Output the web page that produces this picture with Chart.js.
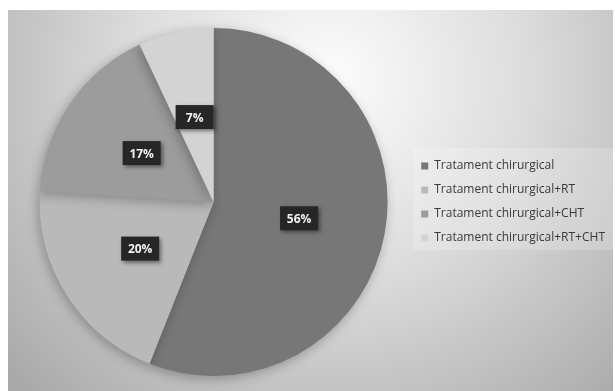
<!DOCTYPE html>
<html lang="ro">
<head>
    <meta charset="UTF-8">
    <title>Tratament</title>
    <script src="https://cdn.jsdelivr.net/npm/chart.js@4.4.1/dist/chart.umd.min.js"></script>
    <style>
        body {
            margin: 0;
            background: #ffffff;
        }
        .chart-wrap {
            width: 615px;
            height: 391px;
        }
    </style>
</head>
<body>
    <div class="chart-wrap">
        <canvas id="pieChart" width="615" height="391"></canvas>
    </div>

    <script>
        // data
        const categories = ['Tratament chirurgical', 'Tratament chirurgical+RT', 'Tratament chirurgical+CHT', 'Tratament chirurgical+RT+CHT'];
        const percentages = [56, 20, 17, 7];
        const sliceColors = ['#777777', '#b9b9b9', '#9c9c9c', '#d3d3d3'];

        // gray gradient panel behind everything
        const panelPlugin = {
            id: 'panel',
            beforeDraw(chart) {
                const ctx = chart.ctx;
                ctx.save();
                ctx.fillStyle = '#ffffff';
                ctx.fillRect(0, 0, chart.width, chart.height);
                const g = ctx.createRadialGradient(330, 80, 10, 330, 80, 430);
                g.addColorStop(0, '#fbfbfb');
                g.addColorStop(0.45, '#dcdcdc');
                g.addColorStop(1, '#aaaaaa');
                ctx.fillStyle = g;
                ctx.fillRect(8, 10, chart.width - 10, chart.height - 10);

                // faint band behind legend
                ctx.fillStyle = 'rgba(255,255,255,0.2)';
                ctx.fillRect(413, 148, chart.width - 415, 102);
                ctx.restore();
            },
            beforeDatasetsDraw(chart) {
                const ctx = chart.ctx;
                ctx.save();
                ctx.shadowColor = 'rgba(0,0,0,0.28)';
                ctx.shadowBlur = 12;
                ctx.shadowOffsetX = -2;
                ctx.shadowOffsetY = 3;
            },
            afterDatasetsDraw(chart) {
                chart.ctx.restore();
            }
        };

        // black value boxes in the middle of each slice
        const valueLabels = {
            id: 'valueLabels',
            afterDatasetsDraw(chart) {
                const ctx = chart.ctx;
                const meta = chart.getDatasetMeta(0);
                const total = percentages.reduce((a, b) => a + b, 0);
                ctx.save();
                ctx.font = 'bold 12px "Open Sans", sans-serif';
                ctx.textAlign = 'center';
                ctx.textBaseline = 'middle';
                meta.data.forEach((arc, i) => {
                    const p = arc.tooltipPosition();
                    const text = Math.round(percentages[i] / total * 100) + '%';
                    const w = 38, h = 24;
                    ctx.shadowColor = 'rgba(0,0,0,0.45)';
                    ctx.shadowBlur = 4;
                    ctx.shadowOffsetX = 2;
                    ctx.shadowOffsetY = 2;
                    ctx.fillStyle = '#262626';
                    ctx.fillRect(p.x - w / 2, p.y - h / 2, w, h);
                    ctx.shadowColor = 'transparent';
                    ctx.fillStyle = '#f2f2f2';
                    ctx.fillText(text, p.x, p.y + 1);
                });
                ctx.restore();
            }
        };

        new Chart(document.getElementById('pieChart'), {
            type: 'pie',
            data: {
                labels: categories,
                datasets: [{
                    data: percentages,
                    backgroundColor: sliceColors,
                    borderWidth: 0
                }]
            },
            options: {
                responsive: false,
                animation: false,
                layout: {
                    padding: { left: 18, right: 0, top: 28, bottom: 15 }
                },
                plugins: {
                    tooltip: { enabled: false },
                    legend: {
                        position: 'right',
                        labels: {
                            boxWidth: 7,
                            boxHeight: 7,
                            padding: 12,
                            color: '#3a3a3a',
                            font: { family: '"Open Sans", sans-serif', size: 12 }
                        }
                    }
                }
            },
            plugins: [panelPlugin, valueLabels]
        });
    </script>
</body>
</html>
